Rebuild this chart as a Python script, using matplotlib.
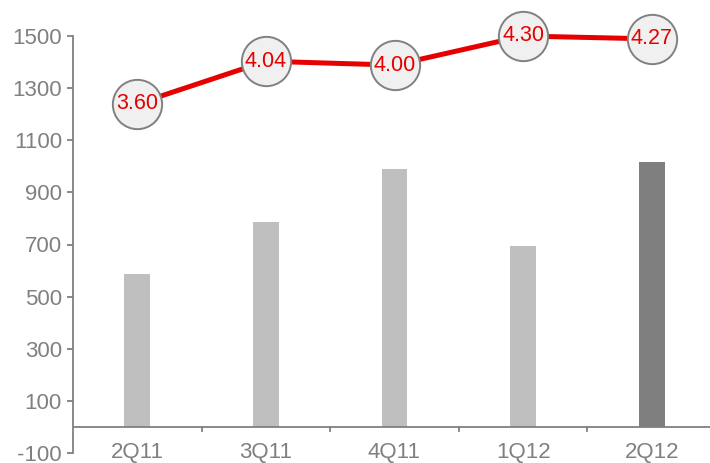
import matplotlib
matplotlib.use("Agg")
import matplotlib.pyplot as plt
import numpy as np

# данные
quarters = ["2Q11", "3Q11", "4Q11", "1Q12", "2Q12"]
bar_values = [588, 788, 988, 696, 1015]
line_values = [3.60, 4.04, 4.00, 4.30, 4.27]
bar_colors = ["#bfbfbf", "#bfbfbf", "#bfbfbf", "#bfbfbf", "#7f7f7f"]

grey = "#808080"
plt.rcParams["font.family"] = ["Liberation Sans", "DejaVu Sans"]
plt.rcParams["axes.unicode_minus"] = False

fig = plt.figure(figsize=(7.1, 4.63), dpi=100)
ax = fig.add_axes([73 / 710, 10 / 463, 643 / 710, 417 / 463])

x = np.arange(len(quarters))
ax.bar(x, bar_values, width=0.2, color=bar_colors, zorder=2)

ax.set_xlim(-0.5, len(quarters) - 0.5)
ax.set_ylim(-100, 1500)
ax.set_yticks(range(-100, 1501, 200))
ax.set_xticks(x)
ax.set_xticklabels(quarters)

for s in ["top", "right", "bottom"]:
    ax.spines[s].set_visible(False)
ax.spines["left"].set_color(grey)
ax.spines["left"].set_linewidth(1.3)
ax.axhline(0, color=grey, lw=1.3, zorder=3)

ax.tick_params(axis="y", colors=grey, labelsize=16, length=4, width=1.3, pad=4)
ax.tick_params(axis="x", length=0, labelsize=16, colors=grey, pad=-8)
# разделители категорий на оси x
for b in np.arange(0.5, len(quarters) - 0.5, 1):
    ax.plot([b, b], [0, -16], color=grey, lw=1.3, clip_on=False, zorder=3)

# линия на второй оси
ax2 = ax.twinx()
ax2.set_ylim(0, 4.30)
ax2.axis("off")
ax2.plot(x, line_values, color="#e60000", lw=3.6, zorder=3, clip_on=False)
ax2.plot(x, line_values, "o", ms=35.5, mfc="#f0f0f0", mec=grey, mew=1.4,
         zorder=4, clip_on=False)
for xi, v in zip(x, line_values):
    ax2.text(xi, v, f"{v:.2f}", ha="center", va="center", color="#e60000",
             fontsize=15.5, zorder=5)

fig.savefig("out.png", dpi=100)
